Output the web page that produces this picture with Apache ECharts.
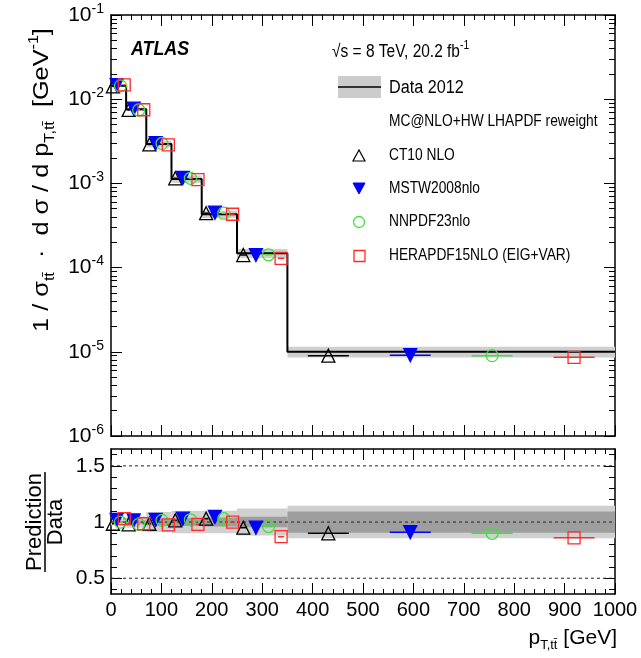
<!DOCTYPE html>
<html><head><meta charset="utf-8">
<script src="https://cdn.jsdelivr.net/npm/echarts@6/dist/echarts.min.js"></script>
<style>html,body{margin:0;padding:0;background:#fff}#c{width:641px;height:658px}</style>
</head><body><div id="c"></div>
<script>
// ---- data ----
const binEdges   = [0, 30, 70, 120, 180, 250, 350, 1000];
const dataValues = [0.0144, 0.0076, 0.00294, 0.00113, 0.00043, 0.000148, 1.0e-5];
const statUnc    = [0.01, 0.015, 0.03, 0.035, 0.04, 0.047, 0.095];
const totalUnc   = [0.03, 0.05, 0.09, 0.10, 0.10, 0.12, 0.145];

const ct10Values  = [0.0142, 0.00745, 0.00290, 0.00115, 0.000443, 0.000141, 0.90e-5];
const mstwValues  = [0.0147, 0.00771, 0.00300, 0.00116, 0.000449, 0.000141, 0.91e-5];
const nnpdfValues = [0.0144, 0.00745, 0.00298, 0.00115, 0.000443, 0.000142, 0.90e-5];
const heraValues  = [0.0148, 0.00749, 0.00287, 0.00111, 0.000430, 0.000129, 0.86e-5];

const ct10Ratio  = [0.985, 0.98, 0.985, 1.015, 1.03, 0.95, 0.90];
const mstwRatio  = [1.02, 1.015, 1.02, 1.03, 1.045, 0.95, 0.91];
const nnpdfRatio = [1.00, 0.98, 1.015, 1.02, 1.03, 0.96, 0.90];
const heraRatio  = [1.03, 0.985, 0.975, 0.98, 1.00, 0.87, 0.86];

const logDecades   = [-6, -5, -4, -3, -2, -1];
const ratioTicks   = [0.5, 1, 1.5];
const ratioMinor   = [0.4, 0.6, 0.7, 0.8, 0.9, 1.1, 1.2, 1.3, 1.4, 1.6];
const xTickValues  = [0, 100, 200, 300, 400, 500, 600, 700, 800, 900, 1000];

// ---- helpers ----
const FONT = 'Liberation Sans';
const nb = dataValues.length;
const logMinor = [];
for (let d = -6; d < -1; d++) for (let k = 2; k <= 9; k++) logMinor.push(d + Math.log10(k));

const models = [
  {name: 'CT10 NLO', top: ct10Values, ratio: ct10Ratio, color: '#000000', symbol: 'triangle', rot: 0, fill: 'rgba(0,0,0,0)', size: 13},
  {name: 'MSTW2008nlo', top: mstwValues, ratio: mstwRatio, color: '#0000ff', symbol: 'triangle', rot: 180, fill: '#0000ff', size: 13},
  {name: 'NNPDF23nlo', top: nnpdfValues, ratio: nnpdfRatio, color: '#3ee03e', symbol: 'circle', rot: 0, fill: 'rgba(0,0,0,0)', size: 12},
  {name: 'HERAPDF15NLO (EIG+VAR)', top: heraValues, ratio: heraRatio, color: '#ff2a2a', symbol: 'rect', rot: 0, fill: 'rgba(0,0,0,0)', size: 12}
];

function xPos(i, k) { const lo = binEdges[i], hi = binEdges[i + 1]; return lo + (hi - lo) * (2 * k + 1) / 8; }
function halfW(i) { return (binEdges[i + 1] - binEdges[i]) / 16; }

function rectSeries(xi, yi, rows, color, z) {
  return {
    type: 'custom', xAxisIndex: xi, yAxisIndex: yi, data: rows, silent: true, z: z, clip: true,
    renderItem: (p, api) => {
      const a = api.coord([api.value(0), api.value(3)]);
      const b = api.coord([api.value(1), api.value(2)]);
      return {type: 'rect', shape: {x: a[0], y: a[1], width: b[0] - a[0], height: b[1] - a[1]}, style: {fill: color}};
    }
  };
}
function hbarSeries(xi, yi, rows, color) {
  return {
    type: 'custom', xAxisIndex: xi, yAxisIndex: yi, data: rows, silent: true, z: 6, clip: true,
    renderItem: (p, api) => {
      const a = api.coord([api.value(0), api.value(2)]);
      const b = api.coord([api.value(1), api.value(2)]);
      return {type: 'line', shape: {x1: a[0], y1: a[1], x2: b[0], y2: b[1]}, style: {stroke: color, lineWidth: 1.5}};
    }
  };
}

const series = [];
// top panel band
series.push(rectSeries(0, 0, dataValues.map((v, i) => [binEdges[i], binEdges[i + 1], v * (1 - totalUnc[i]), v * (1 + totalUnc[i])]), '#cfcfcf', 1));
// step line
const stepPts = dataValues.map((v, i) => [binEdges[i], v]);
stepPts.push([binEdges[nb], dataValues[nb - 1]]);
series.push({type: 'line', xAxisIndex: 0, yAxisIndex: 0, step: 'end', data: stepPts, symbol: 'none', lineStyle: {color: '#000', width: 2}, z: 4, silent: true});
// ratio bands
series.push(rectSeries(2, 4, totalUnc.map((u, i) => [binEdges[i], binEdges[i + 1], 1 - u, 1 + u]), '#d0d0d0', 1));
series.push(rectSeries(2, 4, statUnc.map((u, i) => [binEdges[i], binEdges[i + 1], 1 - u, 1 + u]), '#9e9e9e', 2));
// dashed reference lines
series.push({
  type: 'custom', xAxisIndex: 2, yAxisIndex: 4, data: ratioTicks.map(v => [v]), silent: true, z: 3,
  renderItem: (p, api) => {
    const a = api.coord([0, api.value(0)]);
    const b = api.coord([1000, api.value(0)]);
    return {type: 'line', shape: {x1: a[0], y1: a[1], x2: b[0], y2: b[1]}, style: {stroke: '#222', lineWidth: 1, lineDash: [3, 3]}};
  }
});
// models
models.forEach((m, k) => {
  const topPts = m.top.map((v, i) => [xPos(i, k), v]);
  const ratPts = m.ratio.map((v, i) => [xPos(i, k), v]);
  series.push(hbarSeries(0, 0, m.top.map((v, i) => [xPos(i, k) - halfW(i), xPos(i, k) + halfW(i), v]), m.color));
  series.push(hbarSeries(2, 4, m.ratio.map((v, i) => [xPos(i, k) - halfW(i), xPos(i, k) + halfW(i), v]), m.color));
  [[0, 0, topPts], [2, 4, ratPts]].forEach(([xi, yi, pts]) => {
    series.push({
      type: 'scatter', name: m.name, xAxisIndex: xi, yAxisIndex: yi, data: pts, symbol: m.symbol, symbolRotate: m.rot,
      symbolSize: m.size, z: 7, silent: true,
      itemStyle: {color: m.fill, borderColor: m.color, borderWidth: 1.3, opacity: 1}
    });
  });
});

const axLine = {show: true, onZero: false, lineStyle: {color: '#000', width: 1.5}};
function xAx(grid, pos, labels) {
  return {
    type: 'value', gridIndex: grid, position: pos, min: 0, max: 1000, interval: 100,
    axisLine: axLine, splitLine: {show: false},
    axisTick: {show: true, inside: true, length: 11, lineStyle: {color: '#000', width: 1}},
    minorTick: {show: true, splitNumber: 5, length: 5, lineStyle: {color: '#000', width: 1}},
    axisLabel: {show: labels, customValues: xTickValues, formatter: v => String(v), color: '#000', fontFamily: FONT, fontSize: 20, margin: 6, showMinLabel: true, showMaxLabel: true}
  };
}
function tickAx(grid, pos, min, max, ticks, len, extra) {
  return Object.assign({
    type: 'value', gridIndex: grid, position: pos, min: min, max: max,
    axisLine: {show: false, onZero: false}, splitLine: {show: false},
    axisTick: {show: true, inside: true, length: len, customValues: ticks, lineStyle: {color: '#000', width: 1}},
    axisLabel: {show: false}
  }, extra || {});
}
const logLabel = {
  show: true, customValues: logDecades, margin: 7, fontFamily: FONT, color: '#000',
  formatter: v => '{b|10}{s|' + Math.round(v) + '}',
  rich: {b: {fontSize: 21, lineHeight: 26, fontFamily: FONT, color: '#000'}, s: {fontSize: 14, lineHeight: 14, verticalAlign: 'top', fontFamily: FONT, color: '#000'}}
};

const option = {
  animation: false,
  backgroundColor: '#ffffff',
  grid: [
    {left: 111, top: 15, width: 504, height: 421},
    {left: 111, top: 449, width: 504, height: 145}
  ],
  xAxis: [xAx(0, 'bottom', false), xAx(0, 'top', false), xAx(1, 'bottom', true), xAx(1, 'top', false)],
  yAxis: [
    {type: 'log', logBase: 10, gridIndex: 0, position: 'left', min: 1e-6, max: 0.1, show: false},
    tickAx(0, 'left', -6, -1, logDecades, 11, {axisLine: axLine, axisLabel: logLabel}),
    tickAx(0, 'left', -6, -1, logMinor, 6),
    tickAx(0, 'right', -6, -1, logDecades, 11, {axisLine: axLine}),
    {type: 'value', gridIndex: 1, position: 'left', min: 0.36, max: 1.65, axisLine: axLine, splitLine: {show: false},
      axisTick: {show: true, inside: true, length: 11, customValues: ratioTicks, lineStyle: {color: '#000'}},
      axisLabel: {show: true, customValues: ratioTicks, color: '#000', fontFamily: FONT, fontSize: 21, margin: 6}},
    tickAx(1, 'left', 0.36, 1.65, ratioMinor, 6),
    tickAx(1, 'right', 0.36, 1.65, ratioTicks, 11, {axisLine: axLine}),
    tickAx(1, 'right', 0.36, 1.65, ratioMinor, 6),
    tickAx(0, 'right', -6, -1, logMinor, 6)
  ],
  series: series,
  graphic: [
    {type: 'text', x: 131, y: 49, scaleX: 0.85, style: {text: 'ATLAS', font: 'italic bold 21px ' + FONT, fill: '#000', verticalAlign: 'middle'}},
    {type: 'text', x: 332, y: 52, scaleX: 0.86, style: {
      text: '{m|√s = 8 TeV, 20.2 fb}{u|-1}', verticalAlign: 'middle',
      rich: {m: {fontSize: 18, lineHeight: 24, fontFamily: FONT, fill: '#000'}, u: {fontSize: 12, lineHeight: 12, verticalAlign: 'top', fontFamily: FONT, fill: '#000'}}}},
    {type: 'rect', shape: {x: 338, y: 76, width: 43, height: 22}, style: {fill: '#cccccc'}},
    {type: 'line', shape: {x1: 338, y1: 87, x2: 381, y2: 87}, style: {stroke: '#000', lineWidth: 1.5}},
    {type: 'text', x: 389, y: 88, scaleX: 0.9, style: {text: 'Data 2012', font: '18px ' + FONT, fill: '#000', verticalAlign: 'middle'}},
    {type: 'text', x: 389, y: 122, scaleX: 0.86, style: {text: 'MC@NLO+HW LHAPDF reweight', font: '16px ' + FONT, fill: '#000', verticalAlign: 'middle'}},
    {type: 'polygon', shape: {points: [[353, 161], [365, 161], [359, 150]]}, style: {fill: 'none', stroke: '#000', lineWidth: 1.2}},
    {type: 'text', x: 389, y: 156, scaleX: 0.86, style: {text: 'CT10 NLO', font: '16px ' + FONT, fill: '#000', verticalAlign: 'middle'}},
    {type: 'polygon', shape: {points: [[353, 183], [365, 183], [359, 194]]}, style: {fill: '#0000ff', stroke: '#0000ff', lineWidth: 1}},
    {type: 'text', x: 389, y: 189, scaleX: 0.86, style: {text: 'MSTW2008nlo', font: '16px ' + FONT, fill: '#000', verticalAlign: 'middle'}},
    {type: 'circle', shape: {cx: 359, cy: 222, r: 5.5}, style: {fill: 'none', stroke: '#3ee03e', lineWidth: 1.3}},
    {type: 'text', x: 389, y: 222, scaleX: 0.86, style: {text: 'NNPDF23nlo', font: '16px ' + FONT, fill: '#000', verticalAlign: 'middle'}},
    {type: 'rect', shape: {x: 354, y: 250.5, width: 11, height: 11}, style: {fill: 'none', stroke: '#ff2a2a', lineWidth: 1.3}},
    {type: 'text', x: 389, y: 256, scaleX: 0.86, style: {text: 'HERAPDF15NLO (EIG+VAR)', font: '16px ' + FONT, fill: '#000', verticalAlign: 'middle'}},
    // y title (top)
    {type: 'text', x: 42, y: 180, rotation: Math.PI / 2, scaleX: 1.15, style: {
      text: '{m|1 / σ}{s|tt\u0304}{m|  ·  d σ / d p}{s|T,tt\u0304}{m|  [GeV}{u|-1}{m|]}', align: 'center', verticalAlign: 'middle',
      rich: {m: {fontSize: 22, lineHeight: 30, fontFamily: FONT, fill: '#000'},
             s: {fontSize: 14, lineHeight: 14, verticalAlign: 'bottom', fontFamily: FONT, fill: '#000'},
             u: {fontSize: 14, lineHeight: 14, verticalAlign: 'top', fontFamily: FONT, fill: '#000'}}}},
    // ratio title
    {type: 'text', x: 35, y: 522, rotation: Math.PI / 2, style: {text: 'Prediction', font: '22px ' + FONT, fill: '#000', align: 'center', verticalAlign: 'middle'}},
    {type: 'line', shape: {x1: 45, y1: 472, x2: 45, y2: 572}, style: {stroke: '#000', lineWidth: 1.5}},
    {type: 'text', x: 56, y: 522, rotation: Math.PI / 2, style: {text: 'Data', font: '22px ' + FONT, fill: '#000', align: 'center', verticalAlign: 'middle'}},
    // x title
    {type: 'text', x: 617, y: 638, style: {
      text: '{m|p}{s|T,tt\u0304}{m| [GeV]}', align: 'right', verticalAlign: 'middle',
      rich: {m: {fontSize: 21, lineHeight: 28, fontFamily: FONT, fill: '#000'},
             s: {fontSize: 13, lineHeight: 13, verticalAlign: 'bottom', fontFamily: FONT, fill: '#000'}}}}
  ]
};
const chart = echarts.init(document.getElementById('c'), null, {renderer: 'canvas'});
chart.setOption(option);
</script></body></html>
